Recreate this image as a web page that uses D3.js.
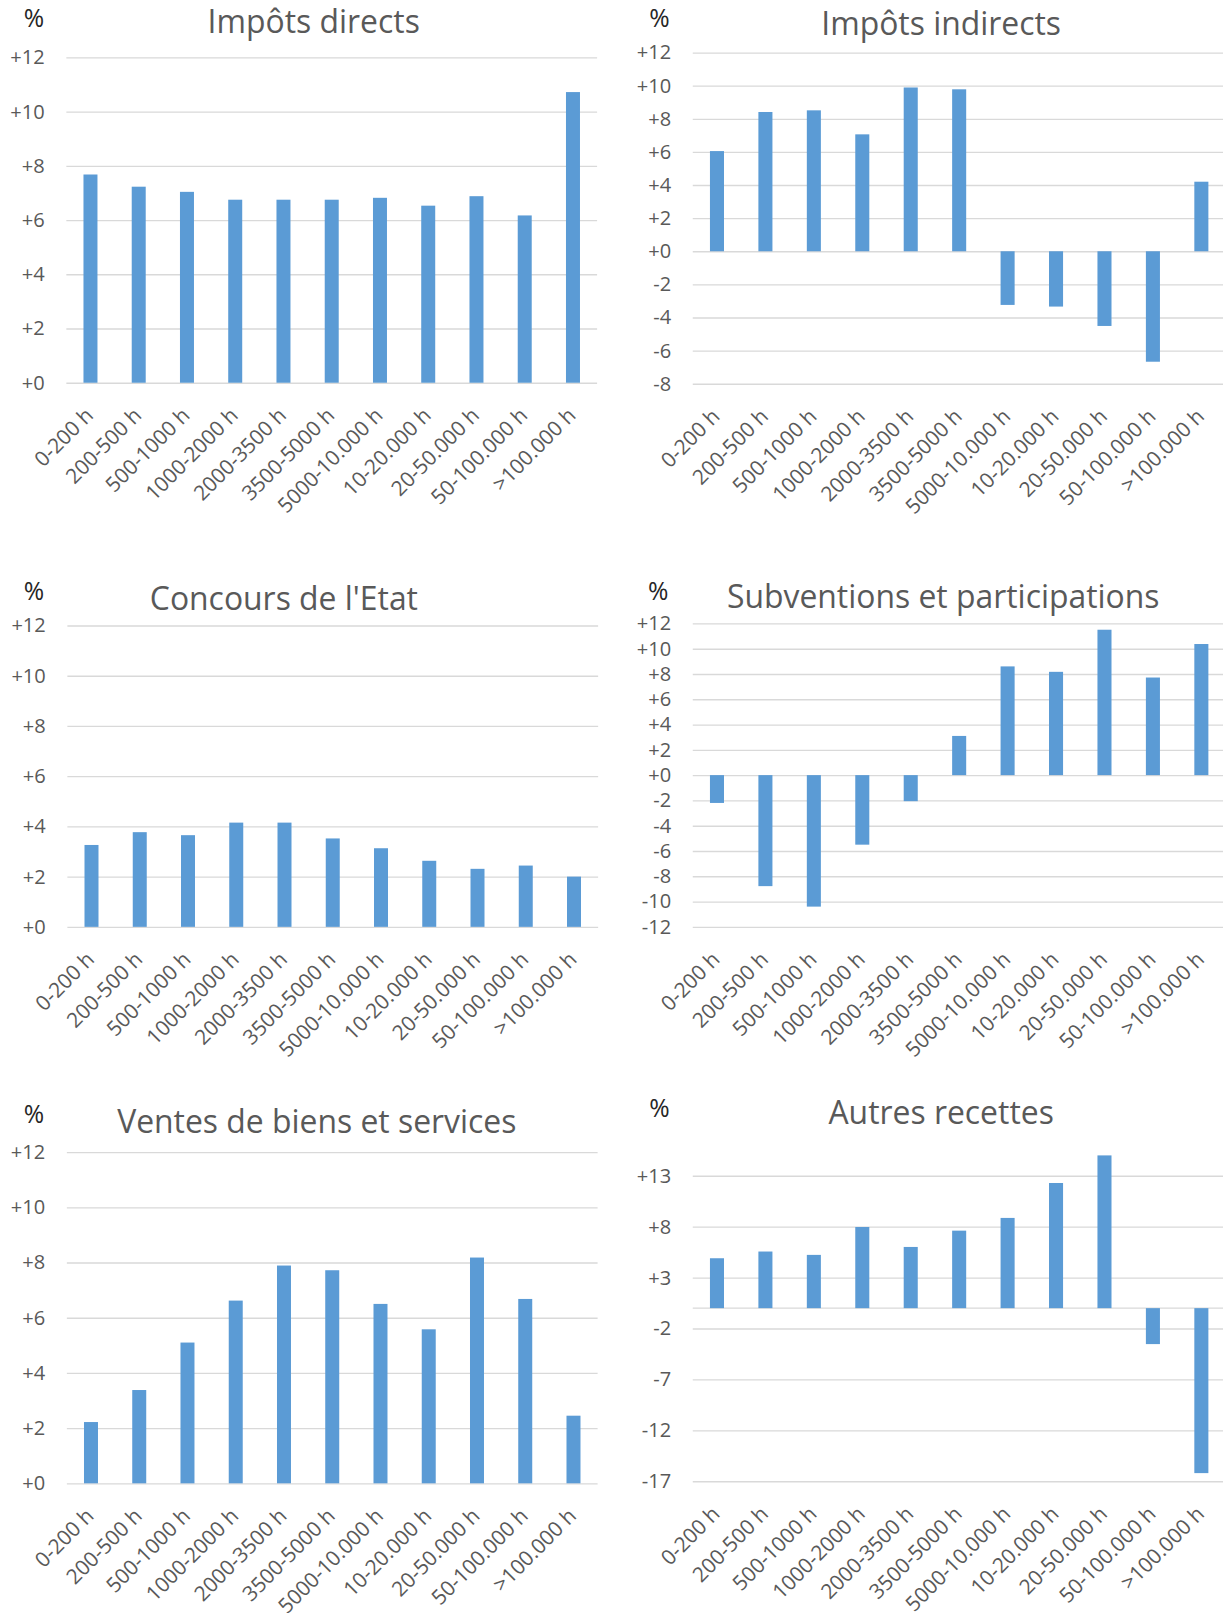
<!DOCTYPE html>
<html>
<head>
<meta charset="utf-8">
<script src="https://cdn.jsdelivr.net/npm/d3@7"></script>
<style>
  html, body { margin: 0; padding: 0; background: #fff; }
  svg { display: block; }
  text { font-family: "Open Sans", "DejaVu Sans", sans-serif; }
</style>
</head>
<body>
<script>

// categories (size of commune, inhabitants)
var categories = ["0-200 h", "200-500 h", "500-1000 h", "1000-2000 h", "2000-3500 h",
    "3500-5000 h", "5000-10.000 h", "10-20.000 h", "20-50.000 h", "50-100.000 h", ">100.000 h"];

// series, % change
var impotsDirects   = [7.68, 7.23, 7.04, 6.75, 6.75, 6.75, 6.82, 6.53, 6.88, 6.17, 10.72];
var impotsIndirects = [6.05, 8.41, 8.51, 7.06, 9.89, 9.78, -3.24, -3.34, -4.51, -6.67, 4.2];
var concoursEtat    = [3.26, 3.77, 3.65, 4.15, 4.15, 3.52, 3.13, 2.63, 2.31, 2.44, 2.0];
var subventions     = [-2.2, -8.78, -10.4, -5.5, -2.06, 3.1, 8.6, 8.17, 11.5, 7.72, 10.37];
var ventes          = [2.22, 3.38, 5.1, 6.62, 7.89, 7.72, 6.5, 5.58, 8.18, 6.68, 2.45];
var autresRecettes  = [4.9, 5.56, 5.23, 7.97, 6.01, 7.61, 8.86, 12.29, 15.0, -3.53, -16.2];

// tick values
var ticksPos       = [0, 2, 4, 6, 8, 10, 12];
var ticksIndirects = [-8, -6, -4, -2, 0, 2, 4, 6, 8, 10, 12];
var ticksSub       = [-12, -10, -8, -6, -4, -2, 0, 2, 4, 6, 8, 10, 12];
var ticksAutres    = [-17, -12, -7, -2, 3, 8, 13];

var BLUE = "#5B9BD5",
    GRID = "#D9D9D9",
    TEXT = "#595959";

var svg = d3.select("body")
    .append("svg")
        .attr("width", 1223)
        .attr("height", 1613)
        .attr("viewBox", "0 0 1189 1568");

// layout of the six small charts
var panels = [
    { title: "Impôts directs", values: impotsDirects, ticks: ticksPos,
      x: [64.5, 580.5], y: [372, 55.7], titleX: 305, titleY: 32, pctX: 33, pctY: 26 },
    { title: "Impôts indirects", values: impotsIndirects, ticks: ticksIndirects,
      x: [673.5, 1191.5], y: [373, 51], titleX: 915, titleY: 34, pctX: 641, pctY: 26 },
    { title: "Concours de l'Etat", values: concoursEtat, ticks: ticksPos,
      x: [65.5, 581.5], y: [901, 608], titleX: 276, titleY: 593, pctX: 33, pctY: 583 },
    { title: "Subventions et participations", values: subventions, ticks: ticksSub,
      x: [673.5, 1191.5], y: [901, 606], titleX: 917, titleY: 591, pctX: 640, pctY: 583 },
    { title: "Ventes de biens et services", values: ventes, ticks: ticksPos,
      x: [65, 581], y: [1442, 1120], titleX: 308, titleY: 1101, pctX: 33, pctY: 1092 },
    { title: "Autres recettes", values: autresRecettes, ticks: ticksAutres,
      x: [673.5, 1191.5], y: [1440, 1143], titleX: 915, titleY: 1093, pctX: 641, pctY: 1086 }
];

panels.forEach(function (p) {

    var g = svg.append("g");

    var tmin = d3.min(p.ticks),
        tmax = d3.max(p.ticks);

    var x = d3.scaleBand()
        .domain(categories)
        .range(p.x)
        .paddingInner(0.71)
        .paddingOuter(0.355);

    var y = d3.scaleLinear()
        .domain([tmin, tmax])
        .range(p.y);

    // gridlines + value labels
    var yAxis = d3.axisLeft(y)
        .tickValues(p.ticks)
        .tickSize(-(p.x[1] - p.x[0]))
        .tickPadding(21)
        .tickFormat(function (d) { return (d >= 0 ? "+" : "") + d; });

    var ya = g.append("g")
        .attr("transform", "translate(" + p.x[0] + ",0)")
        .call(yAxis);

    ya.select(".domain").remove();
    ya.selectAll("line")
        .attr("stroke", GRID)
        .attr("stroke-width", 1.3);
    ya.selectAll("text")
        .attr("fill", TEXT)
        .style("font-size", "19.5px");

    // zero line when it is not on a tick
    if (p.ticks.indexOf(0) < 0) {
        g.append("line")
            .attr("x1", p.x[0])
            .attr("x2", p.x[1])
            .attr("y1", y(0))
            .attr("y2", y(0))
            .attr("stroke", GRID)
            .attr("stroke-width", 1.3);
    }

    // bars
    g.selectAll("rect.bar")
        .data(p.values)
        .enter()
        .append("rect")
            .attr("class", "bar")
            .attr("x", function (d, i) { return x(categories[i]); })
            .attr("width", x.bandwidth())
            .attr("y", function (d) { return y(Math.max(0, d)); })
            .attr("height", function (d) { return Math.abs(y(d) - y(0)); })
            .attr("fill", BLUE);

    // category labels
    var xAxis = d3.axisBottom(x).tickSize(0);

    var xa = g.append("g")
        .attr("transform", "translate(0," + y(tmin) + ")")
        .call(xAxis);

    xa.select(".domain").remove();
    xa.selectAll("text")
        .attr("x", 0)
        .attr("y", 0)
        .attr("dy", 0)
        .attr("transform", "translate(4,33) rotate(-45)")
        .style("text-anchor", "end")
        .style("font-size", "20.3px")
        .attr("fill", TEXT);

    // title
    g.append("text")
        .attr("x", p.titleX)
        .attr("y", p.titleY)
        .attr("text-anchor", "middle")
        .style("font-size", "31px")
        .attr("fill", TEXT)
        .text(p.title);

    // unit
    g.append("text")
        .attr("x", p.pctX)
        .attr("y", p.pctY)
        .attr("text-anchor", "middle")
        .style("font-size", "24px")
        .attr("fill", "#262626")
        .text("%");
});

</script>
</body>
</html>
